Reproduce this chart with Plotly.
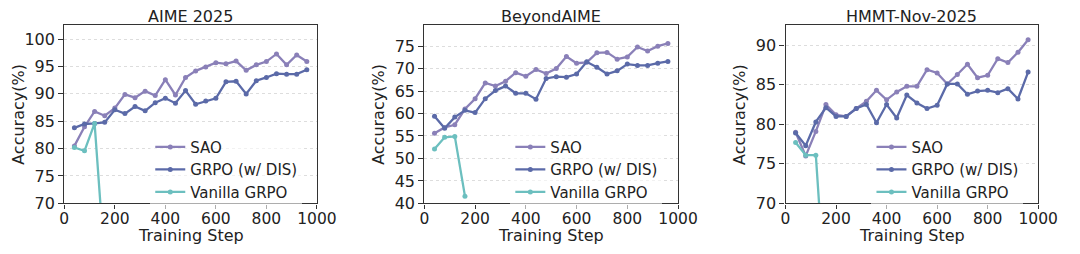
import plotly.graph_objects as go

steps = [40, 80, 120, 160, 200, 240, 280, 320, 360, 400, 440, 480,
         520, 560, 600, 640, 680, 720, 760, 800, 840, 880, 920, 960]
vanilla_steps = [40, 80, 120, 160]

titles = ["AIME 2025", "BeyondAIME", "HMMT-Nov-2025"]
series_names = ["SAO", "GRPO (w/ DIS)", "Vanilla GRPO"]

aime_sao = [80.5, 84.0, 86.8, 86.0, 87.4, 89.9, 89.3, 90.5, 89.7, 92.6, 89.8, 93.0,
            94.2, 94.9, 95.7, 95.5, 96.0, 94.3, 95.3, 95.9, 97.3, 95.3, 97.1, 95.9]
aime_grpo = [83.8, 84.5, 84.6, 84.8, 87.1, 86.4, 87.7, 86.9, 88.4, 89.2, 88.3, 90.6,
             88.1, 88.7, 89.2, 92.2, 92.3, 90.0, 92.4, 93.0, 93.7, 93.6, 93.6, 94.4]
aime_vanilla = [80.2, 79.6, 84.6, 59.0]

beyond_sao = [55.6, 56.9, 57.5, 61.0, 63.3, 66.8, 66.1, 67.2, 69.1, 68.3, 69.8, 68.9,
              70.0, 72.7, 71.2, 71.4, 73.5, 73.6, 72.1, 72.6, 74.8, 73.9, 75.0, 75.6]
beyond_grpo = [59.4, 56.7, 59.2, 60.7, 60.2, 63.3, 65.1, 66.1, 64.5, 64.5, 63.2, 67.8,
               68.2, 68.1, 68.8, 71.5, 70.3, 68.8, 69.5, 71.0, 70.7, 70.7, 71.2, 71.6]
beyond_vanilla = [52.1, 54.7, 54.9, 41.6]

hmmt_sao = [79.0, 76.0, 79.1, 82.5, 81.2, 81.0, 82.0, 82.9, 84.3, 83.1, 84.1, 84.8,
            84.8, 86.9, 86.5, 85.1, 86.3, 87.6, 85.9, 86.2, 88.3, 87.8, 89.1, 90.7]
hmmt_grpo = [78.9, 77.3, 80.3, 82.1, 81.0, 81.0, 82.0, 82.5, 80.2, 82.5, 80.8, 83.7,
             82.7, 82.0, 82.4, 85.1, 85.1, 83.8, 84.2, 84.3, 84.0, 84.5, 83.2, 86.6]
hmmt_vanilla = [77.7, 76.1, 76.1, 57.0]

y_ranges = [[70, 102.5], [40, 79.6], [70, 92.5]]
y_ticks = [[70, 75, 80, 85, 90, 95, 100],
           [40, 45, 50, 55, 60, 65, 70, 75],
           [70, 75, 80, 85, 90]]
x_ticks = [0, 200, 400, 600, 800, 1000]

colors = ["#8a80b8", "#5b6aa8", "#6cbfbf"]
FONT = "DejaVu Sans"

panels = [
    (aime_sao, aime_grpo, aime_vanilla),
    (beyond_sao, beyond_grpo, beyond_vanilla),
    (hmmt_sao, hmmt_grpo, hmmt_vanilla),
]

x_domains = [[60.7 / 1080, 319.3 / 1080], [429.3 / 1080, 689 / 1080], [799 / 1080, 1057.7 / 1080]]
y_domain = [1 - 211.7 / 254, 1 - 26.5 / 254]

fig = go.Figure()
legend_keys = ["legend", "legend2", "legend3"]

for i, (sao, grpo, van) in enumerate(panels):
    xa = "x" if i == 0 else f"x{i+1}"
    ya = "y" if i == 0 else f"y{i+1}"
    data = [(steps, sao), (steps, grpo), (vanilla_steps, van)]
    for j, (xs, ys) in enumerate(data):
        fig.add_trace(go.Scatter(
            x=xs, y=ys, mode="lines+markers", name=series_names[j],
            line=dict(color=colors[j], width=2.3),
            marker=dict(color=colors[j], size=5),
            xaxis=xa, yaxis=ya, legend=legend_keys[i],
            cliponaxis=True,
        ))

layout = dict(
    width=1080, height=254, margin=dict(l=0, r=0, t=0, b=0),
    paper_bgcolor="white", plot_bgcolor="white",
    font=dict(family=FONT, color="#222", size=15),
)

annotations = []
for i in range(3):
    xk = "xaxis" if i == 0 else f"xaxis{i+1}"
    yk = "yaxis" if i == 0 else f"yaxis{i+1}"
    xa = "x" if i == 0 else f"x{i+1}"
    layout[xk] = dict(
        domain=x_domains[i], anchor=xa.replace("x", "y"), range=[0, 1000],
        tickvals=x_ticks, ticks="outside", ticklen=4, tickwidth=1.2, tickcolor="#333",
        showline=True, linecolor="#333", linewidth=1.3, mirror=True,
        showgrid=False, zeroline=False, tickfont=dict(size=15.5, family=FONT, color="#222"),
        ticklabelstandoff=-3,
    )
    layout[yk] = dict(
        domain=y_domain, anchor=xa, range=y_ranges[i],
        tickvals=y_ticks[i], ticks="outside", ticklen=5, tickwidth=1.2, tickcolor="#333",
        showline=True, linecolor="#333", linewidth=1.3, mirror=True,
        showgrid=True, gridcolor="#dddddd", griddash="dot", gridwidth=1,
        zeroline=False, tickfont=dict(size=16, family=FONT, color="#222"),
    )
    cx = (x_domains[i][0] + x_domains[i][1]) / 2
    annotations.append(dict(text=titles[i], x=cx, y=1 - 17 / 254, xref="paper", yref="paper",
                            showarrow=False, font=dict(size=16, family=FONT, color="#222"),
                            xanchor="center", yanchor="middle"))
    annotations.append(dict(text="Training Step", x=cx, y=1 - 245 / 254, xref="paper", yref="paper",
                            showarrow=False, font=dict(size=16, family=FONT, color="#222"),
                            xanchor="center", yanchor="middle"))
    annotations.append(dict(text="Accuracy(%)", x=x_domains[i][0] - 47 / 1080, y=(y_domain[0] + y_domain[1]) / 2,
                            xref="paper", yref="paper", textangle=-90,
                            showarrow=False, font=dict(size=16, family=FONT, color="#222"),
                            xanchor="center", yanchor="middle"))
    layout[legend_keys[i]] = dict(
        x=x_domains[i][0] + 88 / 1080, y=1 - 136 / 254, xref="paper", yref="paper",
        xanchor="left", yanchor="top", bgcolor="rgba(255,255,255,0.6)",
        font=dict(size=15, family=FONT, color="#222"), tracegroupgap=0,
    )

layout["annotations"] = annotations
fig.update_layout(**layout)
fig.write_html("out.html")
